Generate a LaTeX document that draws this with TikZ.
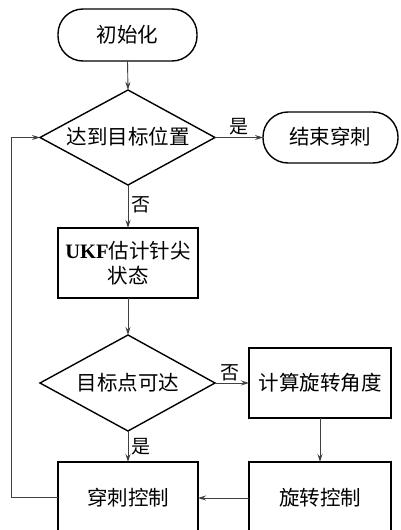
\documentclass[tikz,border=0pt]{standalone}
\usepackage{fontspec}
\setmainfont{Liberation Serif}
\newfontfamily\cjk{Noto Sans CJK SC}
\usetikzlibrary{shapes.geometric,arrows.meta}
\begin{document}
\begin{tikzpicture}[x=1pt,y=-1pt,
  every node/.style={inner sep=0pt,font=\cjk\fontsize{20.5}{25}\selectfont},
  term/.style={draw,line width=1.4pt,rounded corners=25pt},
  proc/.style={draw,line width=1.4pt},
  dec/.style={draw,line width=1.4pt},
  arr/.style={draw=black!75,line width=0.9pt,-{Stealth[length=8pt,width=5pt]}},
  lbl/.style={font=\cjk\fontsize{19}{21}\selectfont}]
\useasboundingbox (0,0) rectangle (400,530);
\clip (0,0) rectangle (400,530);
% nodes
\draw[term] (58,9) rectangle (197,61);
\node (init) at (127.5,35) {初始化};
\coordinate (initB) at (127.5,61);
\draw[dec] (128,90) -- (215,137.5) -- (128,185) -- (40,137.5) -- cycle;
\node (d1) at (128,137) {达到目标位置};
\coordinate (d1T) at (128,90);
\coordinate (d1R) at (215,137.5);
\coordinate (d1B) at (128,185);
\coordinate (d1L) at (40,137.5);
\draw[term] (263,112) rectangle (398,163);
\node (end) at (330,137) {结束穿刺};
\coordinate (endL) at (263,137.5);
\draw[proc] (58,228) rectangle (198,298);
\node[align=center] (ukf) at (128,263) {{\rmfamily\bfseries UKF}估计针尖\\状态};
\coordinate (ukfT) at (128,228);
\coordinate (ukfB) at (128,298);
\draw[dec] (128,335) -- (215,383) -- (128,431) -- (40,383) -- cycle;
\node (d2) at (128,383) {目标点可达};
\coordinate (d2T) at (128,335);
\coordinate (d2R) at (215,383);
\coordinate (d2B) at (128,431);
\draw[proc] (249,348) rectangle (391,418);
\node (calc) at (320,383) {计算旋转角度};
\coordinate (calcL) at (249,383);
\coordinate (calcB) at (320,418);
\draw[proc] (249,462) rectangle (391,560);
\node (rot) at (320,498) {旋转控制};
\coordinate (rotT) at (320,462);
\coordinate (rotL) at (249,498);
\draw[proc] (58,462) rectangle (198,560);
\node (punc) at (128,498) {穿刺控制};
\coordinate (puncT) at (128,462);
\coordinate (puncR) at (198,498);
\coordinate (puncL) at (58,497);
% connectors
\draw[arr] (initB) -- (d1T);
\draw[arr] (d1R) -- node[lbl,above=2pt,pos=0.5] {是} (endL);
\draw[arr] (d1B) -- node[lbl,right=3pt,pos=0.45] {否} (ukfT);
\draw[arr] (ukfB) -- (d2T);
\draw[arr] (d2R) -- node[lbl,above=2pt,pos=0.45] {否} (calcL);
\draw[arr] (d2B) -- node[lbl,right=3pt,pos=0.5] {是} (puncT);
\draw[arr] (calcB) -- (rotT);
\draw[arr] (rotL) -- (puncR);
\draw[arr] (puncL) -- (11,497) -- (11,137.5) -- (d1L);
\end{tikzpicture}
\end{document}
